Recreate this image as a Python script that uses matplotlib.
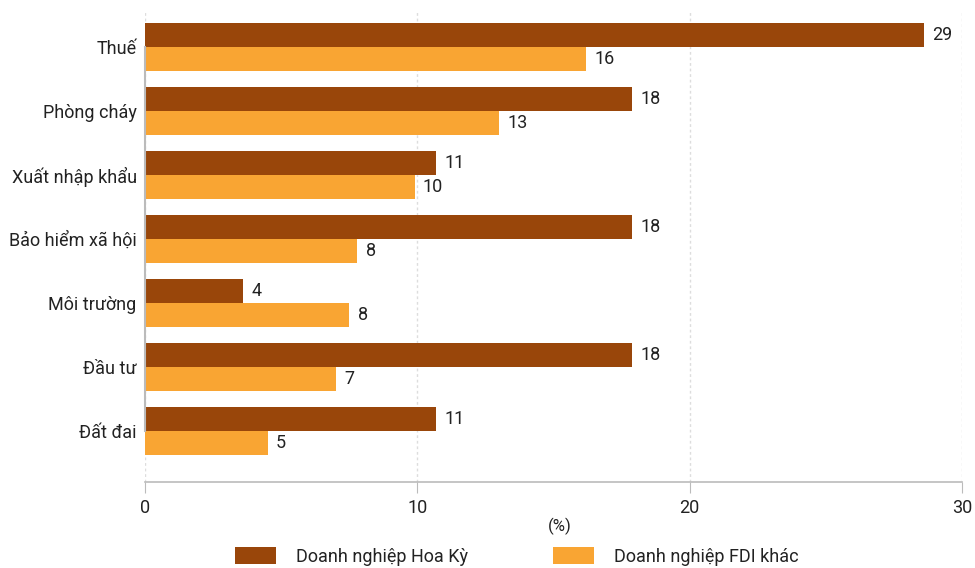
import matplotlib.pyplot as plt
import numpy as np

categories = ['Thuế', 'Phòng cháy', 'Xuất nhập khẩu', 'Bảo hiểm xã hội',
              'Môi trường', 'Đầu tư', 'Đất đai']
us_values = [28.6, 17.9, 10.7, 17.9, 3.6, 17.9, 10.7]
fdi_values = [16.2, 13.0, 9.9, 7.8, 7.5, 7.0, 4.5]
us_labels = ['29', '18', '11', '18', '4', '18', '11']
fdi_labels = ['16', '13', '10', '8', '8', '7', '5']
series_names = ['Doanh nghiệp Hoa Kỳ', 'Doanh nghiệp FDI khác']

dark = '#99460a'
light = '#f9a533'
plt.rcParams['font.family'] = ['Roboto', 'DejaVu Sans']

fig = plt.figure(figsize=(9.75, 5.68), dpi=100)
ax = fig.add_axes([0.1487, 0.1514, 0.838, 0.831])

y = np.arange(len(categories))
h = 0.375
b1 = ax.barh(y - h / 2, us_values, height=h, color=dark, label=series_names[0], zorder=3)
b2 = ax.barh(y + h / 2, fdi_values, height=h, color=light, label=series_names[1], zorder=3)

for bars, labels in [(b1, us_labels), (b2, fdi_labels)]:
    for bar, lab in zip(bars, labels):
        ax.annotate(lab, (bar.get_width(), bar.get_y() + bar.get_height() / 2),
                    xytext=(6, 0), textcoords='offset points', ha='left', va='center',
                    fontsize=13, color='#222222')

ax.set_xlim(0, 30)
ax.set_ylim(len(categories) - 1 + 0.797, -0.578)
ax.set_xticks([0, 10, 20, 30])
ax.set_yticks(y)
ax.set_yticklabels(categories)
ax.tick_params(axis='y', length=0, pad=6, labelsize=13, labelcolor='#222222')
ax.tick_params(axis='x', length=8, color='#bbbbbb', labelsize=13, labelcolor='#222222', pad=4)

for s in ['top', 'right', 'left']:
    ax.spines[s].set_visible(False)
ax.spines['bottom'].set_color('#bbbbbb')
ax.spines['bottom'].set_linewidth(1.2)
ax.plot([0, 0], [y[0], y[-1]], color='#bbbbbb', lw=1.5, zorder=4, clip_on=False)
ax.grid(axis='x', color='#dddddd', linestyle=(0, (2, 2)), linewidth=1, zorder=0)

ax.set_xlabel('(%)', fontsize=12, color='#222222', labelpad=1)
ax.xaxis.set_label_coords(0.508, -0.075)

fig.legend(handles=[b1, b2], loc='upper center', bbox_to_anchor=(0.53, 0.037),
           ncol=2, frameon=False, fontsize=13, handlelength=2.3, handleheight=1.1,
           columnspacing=4.7, handletextpad=1.1, labelcolor='#222222',
           borderpad=0, borderaxespad=0)

fig.savefig('out.png', dpi=100)
